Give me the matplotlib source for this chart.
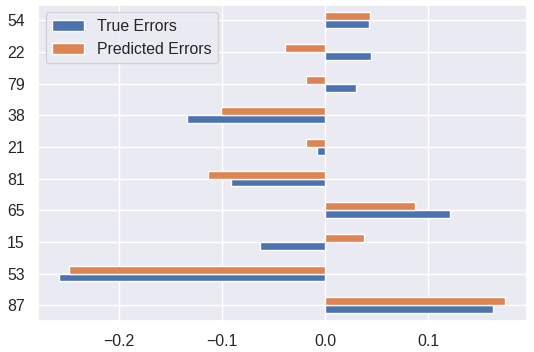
import matplotlib
matplotlib.use("Agg")
import matplotlib.pyplot as plt
import numpy as np
import seaborn as sns

sns.set_theme()
plt.rcParams['font.family'] = ['Liberation Sans', 'DejaVu Sans']

categories = ["87", "53", "15", "65", "81", "21", "38", "79", "22", "54"]
true_errors = [0.1634, -0.258, -0.0628, 0.1214, -0.0913, -0.0075, -0.1337, 0.030, 0.0444, 0.0427]
pred_errors = [0.1748, -0.2485, 0.0382, 0.0877, -0.1139, -0.0184, -0.101, -0.0184, -0.0388, 0.0437]
series_names = ["True Errors", "Predicted Errors"]

colors = sns.color_palette("deep")
fig = plt.figure(figsize=(5.34, 3.52), dpi=100)
ax = fig.add_axes([38/534, 1 - 321/352, (527-38)/534, (321-4.5)/352])

y = np.arange(len(categories))
h = 0.25
ax.barh(y - h/2, true_errors, height=h, color=colors[0], edgecolor='white', linewidth=1, label=series_names[0])
ax.barh(y + h/2, pred_errors, height=h, color=colors[1], edgecolor='white', linewidth=1, label=series_names[1])
ax.set_yticks(y)
ax.set_yticklabels(categories)
ax.set_ylim(-0.5, len(categories) - 0.5)
ax.set_xticks([-0.2, -0.1, 0.0, 0.1])
ax.set_xlim(-0.2786, 0.196)
ax.tick_params(labelsize=11.4)
ax.legend(loc='upper left', fontsize=11.4)

fig.savefig("out.png", dpi=100)
